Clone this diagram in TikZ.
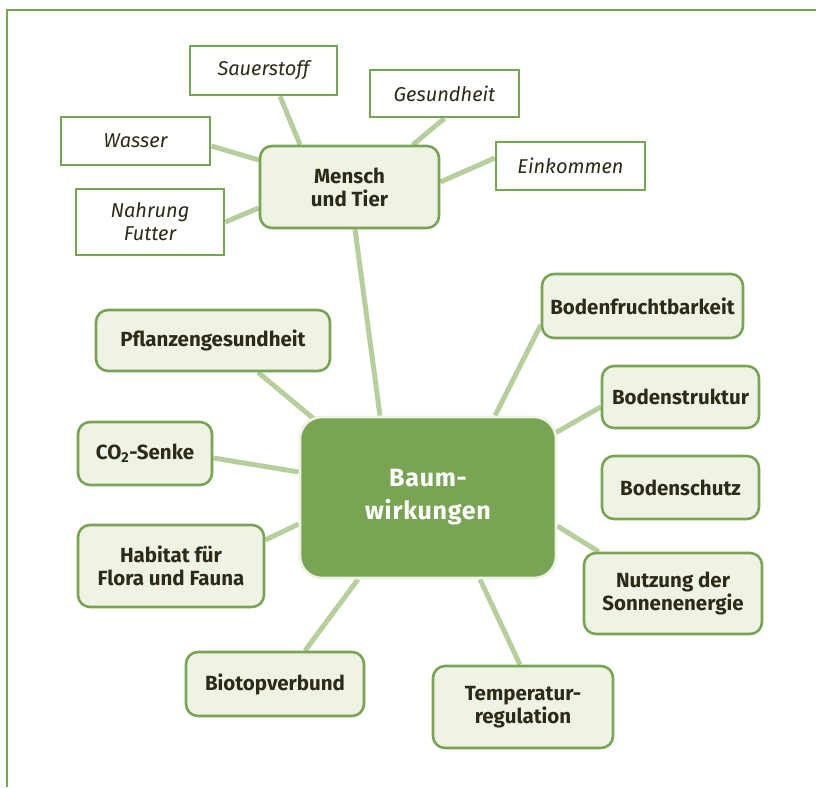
\documentclass[tikz,border=0pt]{standalone}
\usepackage{fontspec}
\setmainfont{Fira Sans}
\newfontfamily\hubfont[LetterSpace=3]{Fira Sans}
\usetikzlibrary{backgrounds}

\definecolor{leafgreen}{HTML}{78A454}
\definecolor{palegreen}{HTML}{EFF3E6}
\definecolor{twiggreen}{HTML}{B6CF9C}
\definecolor{bark}{HTML}{2E2A18}

\begin{document}
\begin{tikzpicture}[x=1pt, y=-1pt,
      topic/.style={draw=leafgreen, line width=2.6pt, fill=palegreen, rounded corners=12pt, align=center, text=bark, font=\fontsize{20.5}{23}\selectfont\bfseries},
      detail/.style={draw=leafgreen, line width=2.6pt, fill=white, align=center, text=bark, font=\fontsize{20}{23}\selectfont\itshape},
      hub/.style={draw=palegreen, line width=2.6pt, fill=leafgreen, rounded corners=22pt, align=center, text=white, font=\hubfont\fontsize{25}{33}\selectfont\bfseries},
      twig/.style={draw=twiggreen, line width=5pt}
    ]

      % frame and page size
      \useasboundingbox (0,0) rectangle (816,787);
      \draw[draw=leafgreen, line width=2pt] (7,787) -- (7,10) -- (816,10);

      % centre
      \node[hub, minimum width=256pt, minimum height=161pt] (baum) at (428,497.5) {Baum-\\wirkungen};

      % Mensch und Tier with its details
      \node[topic, minimum width=179pt, minimum height=82pt] (mensch) at (349.5,187) {Mensch\\und Tier};
      \node[detail, minimum width=147pt, minimum height=49pt] (sauer) at (263.5,70.5) {Sauerstoff};
      \node[detail, minimum width=149pt, minimum height=47pt] (gesund) at (444.5,93.5) {Gesundheit};
      \node[detail, minimum width=149pt, minimum height=48pt] (wasser) at (135.5,141) {Wasser};
      \node[detail, minimum width=149pt, minimum height=48pt] (einkommen) at (570.5,166) {Einkommen};
      \node[detail, minimum width=148pt, minimum height=66pt] (nahrung) at (150,222) {Nahrung\\Futter};

      % left side
      \node[topic, minimum width=234pt, minimum height=61pt] (pflanzen) at (213,340.5) {Pflanzengesundheit};
      \node[topic, minimum width=134pt, minimum height=63pt] (co2) at (145,453.5) {CO\textsubscript{2}-Senke};
      \node[topic, minimum width=186pt, minimum height=82pt] (habitat) at (171,566) {Habitat für\\Flora und Fauna};
      \node[topic, minimum width=178pt, minimum height=64pt] (biotop) at (275,684) {Biotopverbund};

      % right side
      \node[topic, minimum width=201pt, minimum height=64pt] (frucht) at (642.5,306) {Bodenfruchtbarkeit};
      \node[topic, minimum width=157pt, minimum height=62pt] (struktur) at (680.5,397) {Bodenstruktur};
      \node[topic, minimum width=157pt, minimum height=63pt] (schutz) at (680.5,487.5) {Bodenschutz};
      \node[topic, minimum width=178pt, minimum height=81pt] (nutzung) at (673,593.5) {Nutzung der\\Sonnenenergie};
      \node[topic, minimum width=180pt, minimum height=82pt] (temp) at (523,707) {Temperatur-\\regulation};

      % connectors behind the boxes
      \begin{scope}[on background layer]
        \draw[twig] ([xshift=-49.5pt]mensch.north) -- ([xshift=16.5pt]sauer.south);
        \draw[twig] ([xshift=63.5pt]mensch.north) -- (gesund.south);
        \draw[twig] ([yshift=5pt]mensch.east) -- ([yshift=8pt]einkommen.west);
        \draw[twig] ([yshift=27pt]mensch.west) -- ([yshift=-5pt]wasser.east);
        \draw[twig] ([yshift=-21pt]mensch.west) -- (nahrung.east);
        \draw[twig] ([xshift=5.5pt]mensch.south) -- ([xshift=-48pt]baum.north);
        \draw[twig] ([xshift=45pt]pflanzen.south) -- ([xshift=27pt, yshift=-13pt]baum.north west);
        \draw[twig] ([yshift=-4.5pt]co2.east) -- ([yshift=25.5pt]baum.west);
        \draw[twig] ([yshift=26pt]habitat.east) -- ([yshift=-26.5pt]baum.west);
        \draw[twig] ([xshift=30pt]biotop.north) -- ([xshift=-70pt]baum.south);
        \draw[twig] ([xshift=-3pt]temp.north) -- ([xshift=52pt]baum.south);
        \draw[twig] ([xshift=16pt]nutzung.north west) -- ([yshift=-28.5pt]baum.east);
        \draw[twig] ([yshift=-10pt]struktur.west) -- ([xshift=-10pt, yshift=60pt]baum.east);
        \draw[twig] ([yshift=-19pt]frucht.west) -- ([xshift=67pt]baum.north);
      \end{scope}

    \end{tikzpicture}
\end{document}
